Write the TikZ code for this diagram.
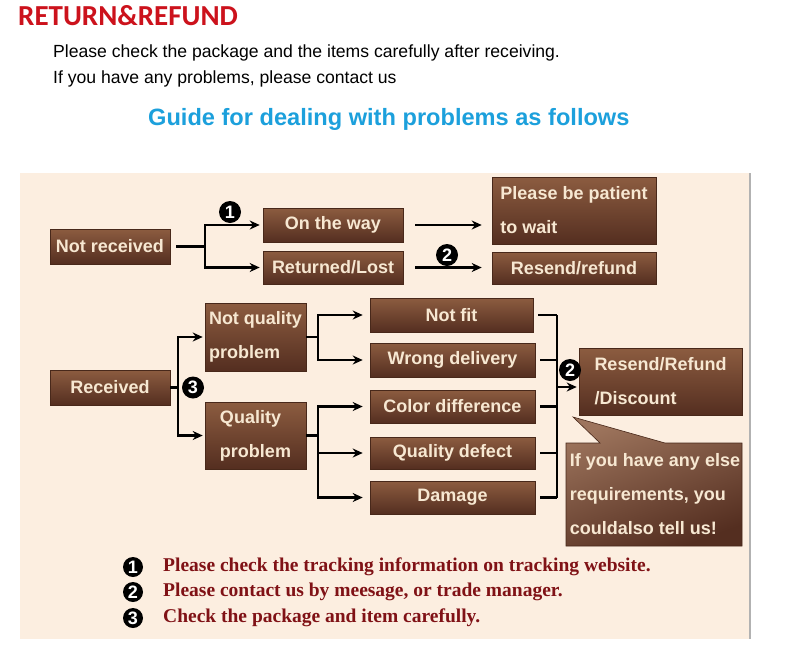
\documentclass[tikz,border=0pt]{standalone}
\usepackage{fontspec}
\setmainfont{Liberation Sans}
\newfontfamily\boxfont{Liberation Sans}
\newfontfamily\headfont{Carlito}
\newfontfamily\notefont{Liberation Serif}
\usetikzlibrary{arrows.meta}

\definecolor{panel}{RGB}{252,238,224}
\definecolor{boxtop}{RGB}{140,92,64}
\definecolor{boxbot}{RGB}{84,46,32}
\definecolor{boxline}{RGB}{72,40,26}
\definecolor{cream}{RGB}{247,232,210}
\definecolor{headred}{RGB}{204,18,28}
\definecolor{guideblue}{RGB}{28,160,220}
\definecolor{notered}{RGB}{128,18,22}

\tikzset{
  brownbox/.style={draw=boxline, line width=0.6pt, top color=boxtop, bottom color=boxbot,
    text=cream, inner sep=0pt, align=left,
    font=\boxfont\bfseries\fontsize{18}{34}\selectfont},
  badge/.style={circle, fill=black, text=white, inner sep=0pt, minimum size=22pt,
    font=\boxfont\bfseries\fontsize{18}{18}\selectfont},
  note/.style={anchor=west, text=notered, inner sep=0pt,
    font=\notefont\bfseries\fontsize{19.5}{20}\selectfont},
  link/.style={line width=2.4pt, ->},
  plain/.style={line width=2.4pt}
}

\begin{document}
\begin{tikzpicture}[x=1pt, y=-1pt, >={Stealth[length=10pt,width=9pt]}]
  \useasboundingbox (0,0) rectangle (800,648);
  \fill[white] (0,0) rectangle (800,648);

  % heading
  \node[anchor=west, text=headred, inner sep=0pt, font=\headfont\bfseries\fontsize{29}{30}\selectfont] (title) at (18,16) {RETURN\&REFUND};
  \node[anchor=west, inner sep=0pt, font=\fontsize{17.6}{18}\selectfont] (line1) at (53,53) {Please check the package and the items carefully after receiving.};
  \node[anchor=west, inner sep=0pt, font=\fontsize{17.6}{18}\selectfont] (line2) at (53,79) {If you have any problems, please contact us};
  \node[anchor=west, text=guideblue, inner sep=0pt, font=\bfseries\fontsize{23.6}{24}\selectfont] (guide) at (148,119) {Guide for dealing with problems as follows};

  % panel
  \fill[panel] (20,173) rectangle (750,639);
  \draw[gray!60, line width=1.2pt] (750,173) -- (750,639);

  % boxes
  \node[brownbox, minimum width=120pt, minimum height=35pt] (nr) at (110,246.5) {Not received};
  \node[brownbox, minimum width=140pt, minimum height=34pt] (otw) at (333,225) {On the way};
  \node[brownbox, minimum width=140pt, minimum height=33pt] (rl) at (333,267.5) {Returned/Lost};
  \node[brownbox, minimum width=164pt, minimum height=67pt] (pbp) at (574,210.5) {Please be patient\\to wait};
  \node[brownbox, minimum width=164pt, minimum height=32pt] (rr) at (574,268) {Resend/refund};

  \node[brownbox, minimum width=120pt, minimum height=35pt] (rec) at (110,387.5) {Received};
  \node[brownbox, minimum width=101pt, minimum height=68pt] (nqp) at (255.5,337) {Not quality\\problem};
  \node[brownbox, minimum width=101pt, minimum height=67pt] (qp) at (255.5,435.5) {Quality\\problem};

  \node[brownbox, minimum width=163pt, minimum height=34pt] (nf) at (451.5,315) {Not fit};
  \node[brownbox, minimum width=165pt, minimum height=34pt] (wd) at (452.5,360) {Wrong delivery};
  \node[brownbox, minimum width=165pt, minimum height=33pt] (cd) at (452.5,406.5) {Color difference};
  \node[brownbox, minimum width=165pt, minimum height=32pt] (qd) at (452.5,453) {Quality defect};
  \node[brownbox, minimum width=165pt, minimum height=33pt] (dmg) at (452.5,497.5) {Damage};

  \node[brownbox, minimum width=163pt, minimum height=67pt] (rrd) at (660.5,381.5) {Resend/Refund\\/Discount};

  % callout
  \shade[top color=boxtop!85!white, bottom color=boxbot, shading angle=20, draw=boxline, line width=0.6pt]
    (566,443) -- (600,443) -- (573,417) -- (665,443) -- (742,443) -- (742,546) -- (566,546) -- cycle;
  \node[text=cream, inner sep=0pt, align=left, font=\boxfont\bfseries\fontsize{18}{34}\selectfont] (ask) at (655,494)
    {If you have any else\\requirements, you\\couldalso tell us!};

  % not received branch
  \coordinate (j1) at (205,246.5);
  \draw[plain, shorten <=6pt] (nr.east) -- (j1);
  \draw[link, shorten >=3pt] (j1) |- (otw.west);
  \draw[link, shorten >=3pt] (j1) |- (rl.west);
  \node[badge] (b1) at (230,212) {1};
  \draw[link, shorten <=12pt, shorten >=10pt] (otw.east) -- (otw.east -| pbp.west);
  \draw[link, shorten <=12pt, shorten >=10pt] (rl.east) -- (rl.east -| rr.west);
  \node[badge] (b2) at (447,255) {2};

  % received branch
  \coordinate (j2) at (178,387.5);
  \draw[plain] (rec.east) -- (j2);
  \draw[link, shorten >=2pt] (j2) |- (nqp.west);
  \draw[link, shorten >=2pt] (j2) |- (qp.west);
  \node[badge] (b3) at (193,387.5) {3};

  \coordinate (j3) at (318,337);
  \draw[plain] (nqp.east) -- (j3);
  \draw[link, shorten >=7pt] (j3) |- (nf.west);
  \draw[link, shorten >=7pt] (j3) |- (wd.west);

  \coordinate (j4) at (318,435.5);
  \draw[plain] (qp.east) -- (j4);
  \draw[link, shorten >=7pt] (j4) |- (cd.west);
  \draw[link, shorten >=7pt] (j4) |- (qd.west);
  \draw[link, shorten >=7pt] (j4) |- (dmg.west);

  % collecting bracket
  \coordinate (j5) at (557,387);
  \foreach \b in {nf,wd,cd,qd,dmg}
    \draw[plain, shorten <=5pt] (\b.east) -- (\b.east -| j5);
  \draw[plain] (nf.east -| j5) -- (dmg.east -| j5);
  \draw[link, shorten >=2pt] (j5) -- (j5 -| rrd.west);
  \node[badge] (b4) at (570,370) {2};

  % notes
  \node[badge, minimum size=20pt] (k1) at (133,567) {1};
  \node[badge, minimum size=20pt] (k2) at (133,592) {2};
  \node[badge, minimum size=20pt] (k3) at (133,618) {3};
  \node[note] (t1) at (163,567) {Please check the tracking information on tracking website.};
  \node[note] (t2) at (163,592) {Please contact us by meesage, or trade manager.};
  \node[note] (t3) at (163,618) {Check the package and item carefully.};
\end{tikzpicture}
\end{document}
